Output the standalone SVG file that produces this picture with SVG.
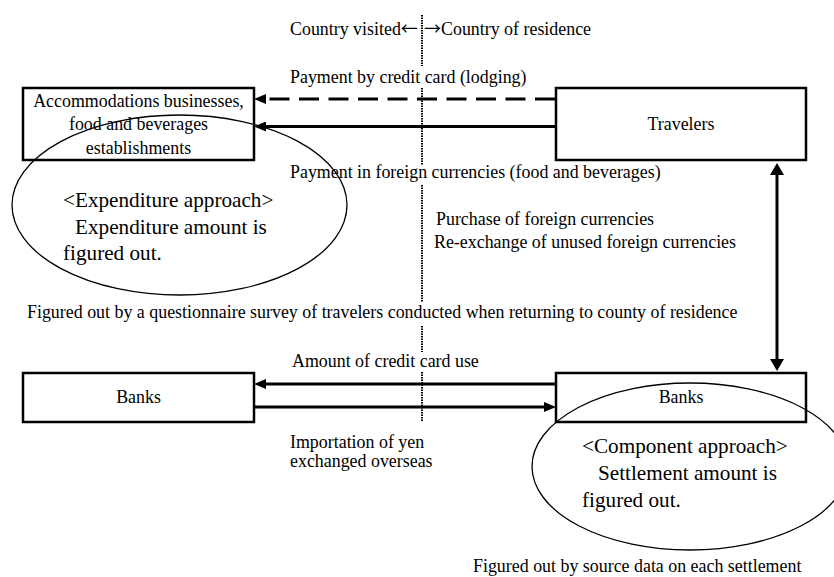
<svg xmlns="http://www.w3.org/2000/svg" width="834" height="577" viewBox="0 0 834 577">
<style>
text{font-family:"Liberation Serif","Times New Roman",serif;font-size:17.9px;fill:#000}
.big{font-size:21.2px}
.cjk{font-family:"Noto Sans CJK JP","Liberation Serif",serif;font-size:17px}
.box{fill:#fff;stroke:#000;stroke-width:2.5}
.ell{fill:none;stroke:#000;stroke-width:1.3}
.arr{fill:none;stroke:#000;stroke-width:3}
.dash{stroke-dasharray:20 9.5}
.dot{fill:none;stroke:#000;stroke-width:2;stroke-dasharray:1.5 1}
</style>
<defs>
<marker id="ah" viewBox="0 0 12 10" refX="0" refY="5" markerWidth="12" markerHeight="10" markerUnits="userSpaceOnUse" orient="auto-start-reverse">
<path d="M0,0 L12,5 L0,10 Z" fill="#000"/>
</marker>
<marker id="ahv" viewBox="0 0 12 14" refX="0" refY="7" markerWidth="12" markerHeight="14" markerUnits="userSpaceOnUse" orient="auto-start-reverse">
<path d="M0,0 L12,7 L0,14 Z" fill="#000"/>
</marker>
</defs>
<rect width="834" height="577" fill="#fff"/>

<g id="border-line">
<path class="dot" d="M422,15 V66 M422,88 V165 M422,185 V302 M422,326 V352 M422,372 V422"/>
<text x="290" y="35">Country visited<tspan class="cjk">←</tspan></text>
<text x="424" y="35"><tspan class="cjk">→</tspan>Country of residence</text>
</g>

<g id="accommodations">
<rect class="box" x="23" y="88" width="231" height="72"/>
<text x="138.5" y="107" text-anchor="middle">Accommodations businesses,</text>
<text x="138.5" y="130" text-anchor="middle">food and beverages</text>
<text x="138.5" y="154" text-anchor="middle">establishments</text>
</g>

<g id="travelers">
<rect class="box" x="556" y="88" width="250" height="72"/>
<text x="681" y="130" text-anchor="middle">Travelers</text>
</g>

<g id="banks-left">
<rect class="box" x="23" y="373" width="231" height="49"/>
<text x="138.5" y="403" text-anchor="middle">Banks</text>
</g>

<g id="banks-right">
<rect class="box" x="556" y="373" width="250" height="49"/>
<text x="681" y="403" text-anchor="middle">Banks</text>
</g>

<g id="expenditure-approach">
<ellipse class="ell" cx="179.5" cy="205" rx="167.5" ry="90"/>
<text class="big" x="63" y="207">&lt;Expenditure approach&gt;</text>
<text class="big" x="75" y="234">Expenditure amount is</text>
<text class="big" x="63" y="260">figured out.</text>
</g>

<g id="component-approach">
<ellipse class="ell" cx="690" cy="466.5" rx="158" ry="83.5"/>
<text class="big" x="582" y="453">&lt;Component approach&gt;</text>
<text class="big" x="598" y="480">Settlement amount is</text>
<text class="big" x="582" y="507">figured out.</text>
</g>

<g id="connectors">
<path class="arr dash" d="M555,99 H266" marker-end="url(#ah)"/>
<path class="arr" d="M556,126.5 H266" marker-end="url(#ah)"/>
<path class="arr" d="M556,384 H266" marker-end="url(#ah)"/>
<path class="arr" d="M254,407 H544" marker-end="url(#ah)"/>
<path class="arr" d="M777,175 V359" marker-start="url(#ahv)" marker-end="url(#ahv)"/>
</g>

<g id="labels">
<text x="290" y="83">Payment by credit card (lodging)</text>
<text x="290" y="178">Payment in foreign currencies (food and beverages)</text>
<text x="436" y="225">Purchase of foreign currencies</text>
<text x="434" y="248">Re-exchange of unused foreign currencies</text>
<text x="27" y="318">Figured out by a questionnaire survey of travelers conducted when returning to county of residence</text>
<text x="292" y="367">Amount of credit card use</text>
<text x="290" y="448">Importation of yen</text>
<text x="290" y="467">exchanged overseas</text>
<text x="473" y="572">Figured out by source data on each settlement</text>
</g>
</svg>
